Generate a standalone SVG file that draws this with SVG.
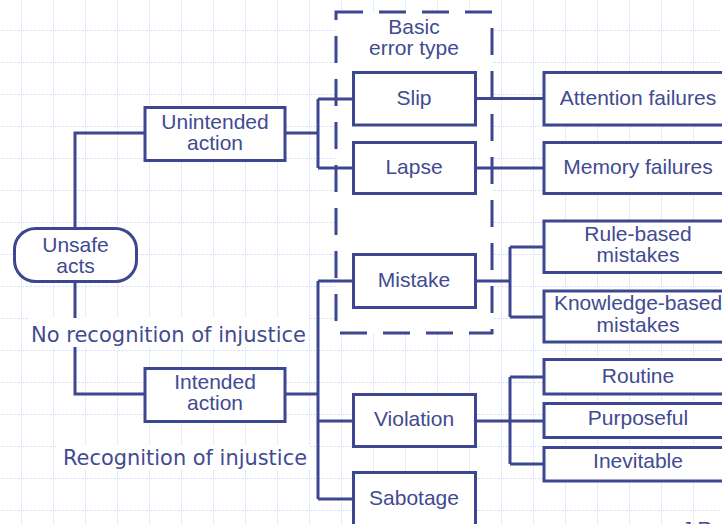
<svg xmlns="http://www.w3.org/2000/svg" width="722" height="524" viewBox="0 0 722 524">
<style>
.box{fill:#fff;stroke:#3d4791;stroke-width:3}
.t{font-family:"Liberation Sans",Arial,sans-serif;font-size:21px;fill:#414b91;text-anchor:middle}
.lbl{font-family:"DejaVu Sans",Verdana,sans-serif;font-size:22px;fill:#414b91}
.c{fill:none;stroke:#3d4791;stroke-width:3}
</style>
<defs>
<pattern id="grid" patternUnits="userSpaceOnUse" x="21" y="30" width="32" height="32">
<path d="M0 0V32M0 0H32" fill="none" stroke="#dce4f7" stroke-width="2" stroke-dasharray="3 1"/>
</pattern>
</defs>
<rect width="722" height="524" fill="#fff"/>
<rect width="722" height="524" fill="url(#grid)"/>
<g id="basic-error-type">
<rect x="336" y="12" width="156" height="321" fill="#fff" stroke="#3d4791" stroke-width="3" stroke-dasharray="27 16"/>
<text class="t" x="414" y="34">Basic</text>
<text class="t" x="414" y="55">error type</text>
</g>
<rect x="28" y="318" width="280" height="29" fill="#fff"/>
<rect x="58" y="446" width="252" height="24" fill="#fff"/>
<g id="connectors" class="c">
<path d="M75 228.5V133H145"/>
<path d="M75 281.5V318M75 347V394H145"/>
<path d="M285 133H318M318 99V168M318 99H353M318 168H353"/>
<path d="M285 394H318M318 281V499M318 281H353M318 421H353M318 499H353"/>
<path d="M475 98.5H544"/>
<path d="M475 168H544"/>
<path d="M475 281H510M510 247V317M510 247H544M510 317H544"/>
<path d="M475 421H510M510 377V464M510 377H544M510 421H544M510 464H544"/>
</g>
<g id="unsafe-acts">
<rect class="box" x="14.5" y="228.5" width="122" height="53" rx="21"/>
<text class="t" x="75.5" y="252">Unsafe</text>
<text class="t" x="75.5" y="273">acts</text>
</g>
<g id="unintended-action">
<rect class="box" x="145" y="107.5" width="140" height="53"/>
<text class="t" x="215" y="128.5">Unintended</text>
<text class="t" x="215" y="149.5">action</text>
</g>
<g id="intended-action">
<rect class="box" x="145" y="368.5" width="140" height="53"/>
<text class="t" x="215" y="389">Intended</text>
<text class="t" x="215" y="410">action</text>
</g>
<g id="slip">
<rect class="box" x="353.5" y="72.5" width="122" height="52.5"/>
<text class="t" x="414" y="104.5">Slip</text>
</g>
<g id="lapse">
<rect class="box" x="353.5" y="142.5" width="122" height="51"/>
<text class="t" x="414" y="174">Lapse</text>
</g>
<g id="mistake">
<rect class="box" x="353.5" y="254.5" width="122" height="53"/>
<text class="t" x="414" y="287">Mistake</text>
</g>
<g id="violation">
<rect class="box" x="353.5" y="394.5" width="122" height="52"/>
<text class="t" x="414" y="426">Violation</text>
</g>
<g id="sabotage">
<rect class="box" x="353.5" y="472.5" width="122" height="60"/>
<text class="t" x="414" y="505">Sabotage</text>
</g>
<g id="attention-failures">
<rect class="box" x="544" y="72.5" width="190" height="52.5"/>
<text class="t" x="638" y="104.5">Attention failures</text>
</g>
<g id="memory-failures">
<rect class="box" x="544" y="142.5" width="190" height="51"/>
<text class="t" x="638" y="174">Memory failures</text>
</g>
<g id="rule-based">
<rect class="box" x="544" y="221" width="190" height="51.5"/>
<text class="t" x="638" y="241">Rule-based</text>
<text class="t" x="638" y="262">mistakes</text>
</g>
<g id="knowledge-based">
<rect class="box" x="544" y="291" width="190" height="51"/>
<text class="t" x="638" y="310">Knowledge-based</text>
<text class="t" x="638" y="331.5">mistakes</text>
</g>
<g id="routine">
<rect class="box" x="544" y="359.5" width="190" height="34.5"/>
<text class="t" x="638" y="383">Routine</text>
</g>
<g id="purposeful">
<rect class="box" x="544" y="403.5" width="190" height="34"/>
<text class="t" x="638" y="425">Purposeful</text>
</g>
<g id="inevitable">
<rect class="box" x="544" y="447.5" width="190" height="33.5"/>
<text class="t" x="638" y="468">Inevitable</text>
</g>
<text class="lbl" x="31" y="341.5" textLength="275" lengthAdjust="spacingAndGlyphs">No recognition of injustice</text>
<text class="lbl" x="63" y="465" textLength="244" lengthAdjust="spacingAndGlyphs">Recognition of injustice</text>
<text x="682" y="536" font-family="Liberation Sans, Arial, sans-serif" font-size="20" fill="#3d4791">J R</text>
</svg>
